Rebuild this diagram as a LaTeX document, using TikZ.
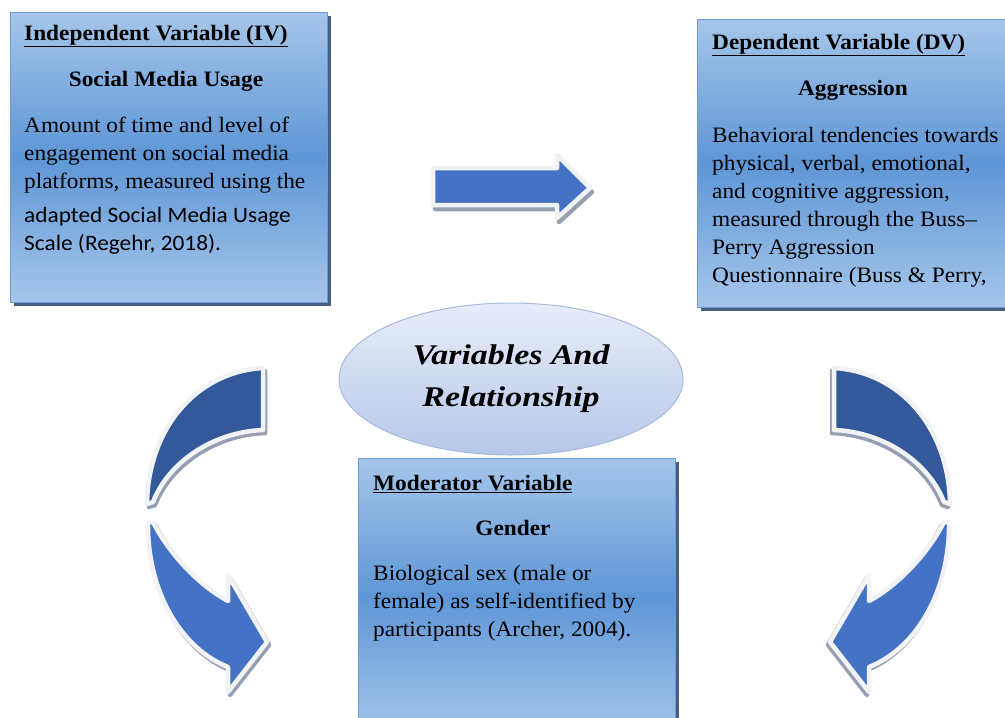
\documentclass[tikz,border=0pt]{standalone}
\usepackage{fontspec}
\setmainfont{Liberation Serif}
\newfontfamily\calfont{Carlito}
\usetikzlibrary{shapes.geometric,shadows}
\definecolor{boxtop}{RGB}{166,198,234}
\definecolor{boxmid}{RGB}{94,150,214}
\definecolor{boxline}{RGB}{108,156,212}
\definecolor{boxshadow}{RGB}{52,78,116}
\definecolor{arrlight}{RGB}{68,114,196}
\definecolor{arrdark}{RGB}{51,89,155}
\definecolor{arrshadow}{RGB}{150,158,178}
\definecolor{arredge}{RGB}{242,243,246}
\definecolor{ovaltop}{RGB}{232,237,249}
\definecolor{ovalbot}{RGB}{182,199,233}
\definecolor{ovalline}{RGB}{165,186,222}
% Spalten und Zeilenabstand (px, y nach unten)
\def\ivx{24}
\def\dvx{712}
\def\modx{373}
\def\lh{28}
\def\stretch{1.06}

\begin{document}
\begin{tikzpicture}[
		x=1pt,y=-1pt,
		varbox/.style={draw=boxline,line width=0.8pt,inner sep=0pt,
			top color=boxtop,bottom color=boxtop,middle color=boxmid,
			drop shadow={shadow xshift=4pt,shadow yshift=-4pt,fill=boxshadow,opacity=0.9}},
		ttl/.style={font=\bfseries\fontsize{22}{28}\selectfont,anchor=base west,inner sep=0pt,xscale=\stretch},
		sub/.style={font=\bfseries\fontsize{22}{28}\selectfont,anchor=base,inner sep=0pt,xscale=\stretch},
		txt/.style={font=\fontsize{22}{28}\selectfont,anchor=base west,align=left,inner sep=0pt,xscale=\stretch},
		cal/.style={txt,font=\calfont\fontsize{22}{28}\selectfont},
		oval/.style={ellipse,draw=ovalline,line width=1pt,top color=ovaltop,bottom color=ovalbot,
			minimum width=344pt,minimum height=152pt},
		ovaltxt/.style={font=\bfseries\itshape\fontsize{28.5}{42}\selectfont,align=center,inner sep=0pt,xscale=1.19},
		band/.style={draw=arredge,line width=4.5pt,line join=round},
		bandshadow/.style={fill=arrshadow,draw=arrshadow,line width=4.5pt,line join=round}]
	
	\useasboundingbox (0,0) rectangle (1005,718);
	\clip (0,0) rectangle (1005,718);
	
	% ============ Kaesten ============
	\node[varbox,minimum width=317pt,minimum height=290pt] (iv) at (168.5,157) {};
	\node[varbox,minimum width=315pt,minimum height=288pt] (dv) at (854.5,163) {};
	\node[varbox,minimum width=317pt,minimum height=277pt] (mod) at (516.5,596.5) {};
	
	% ============ IV ============
	% base = Grundlinie der letzten Zeile
	\node[ttl] (ivttl) at (\ivx,40) {\underline{Independent Variable (IV)}};
	\node[sub] (ivsub) at (166,86) {Social Media Usage};
	\node[txt] (ivtxt) at (\ivx,{132+2*\lh}) {Amount of time and level of\\engagement on social media\\platforms, measured using the};
	\node[cal] (ivcal) at (\ivx,{222+\lh}) {adapted Social Media Usage\\Scale (Regehr, 2018).};
	
	% ============ DV ============
	\node[ttl] (dvttl) at (\dvx,49) {\underline{Dependent Variable (DV)}};
	\node[sub] (dvsub) at (853,95) {Aggression};
	\node[txt] (dvtxt) at (\dvx,{142+5*\lh}) {Behavioral tendencies towards\\physical, verbal, emotional,\\and cognitive aggression,\\measured through the Buss–\\Perry Aggression\\Questionnaire (Buss \& Perry,};
	
	% ============ Moderator ============
	\node[ttl] (modttl) at (\modx,490) {\underline{Moderator Variable}};
	\node[sub] (modsub) at (513,535) {Gender};
	\node[txt] (modtxt) at (\modx,{580+2*\lh}) {Biological sex (male or\\female) as self-identified by\\participants (Archer, 2004).};
	
	% ============ Ellipse ============
	\node[oval] (rel) at (511,379) {};
	\node[ovaltxt] (reltxt) at (rel.center) {Variables And\\Relationship};
	
	% ============ Pfeil IV -> DV ============
	\draw[bandshadow] (435,172) -- (559,172) -- (559,159) -- (592,192) -- (559,222) -- (559,209) -- (435,209) -- cycle;
	\draw[band,fill=arrlight] (433,168) -- (557,168) -- (557,155) -- (590,188) -- (557,218) -- (557,205) -- (433,205) -- cycle;
	
	% ============ gebogene Pfeile ============
	% oberer Teil dunkel (Rueckseite), unterer Teil mit Spitze; rechts gespiegelt
	\foreach \side/\sx/\dx in {left/0/1,right/1097/-1} {
		\begin{scope}[xshift=\sx pt,xscale=\dx]
			\begin{scope}[xshift=2pt,yshift=-3pt]
				\path[bandshadow] (263,368) .. controls (195,372) and (148,430) .. (147,504)
					-- (153,502) .. controls (168,463) and (212,432) .. (263,430) -- cycle;
				\path[bandshadow] (148,522) .. controls (147,590) and (180,648) .. (228,667)
					-- (228,692) -- (267,642) -- (228,575) -- (228,601)
					.. controls (198,585) and (168,552) .. (153,522) -- cycle;
			\end{scope}
			\draw[band,fill=arrdark] (263,368) .. controls (195,372) and (148,430) .. (147,504)
				-- (153,502) .. controls (168,463) and (212,432) .. (263,430) -- cycle;
			\draw[band,fill=arrlight] (148,522) .. controls (147,590) and (180,648) .. (228,667)
				-- (228,692) -- (267,642) -- (228,575) -- (228,601)
				.. controls (198,585) and (168,552) .. (153,522) -- cycle;
		\end{scope}
	}
	
\end{tikzpicture}
\end{document}
